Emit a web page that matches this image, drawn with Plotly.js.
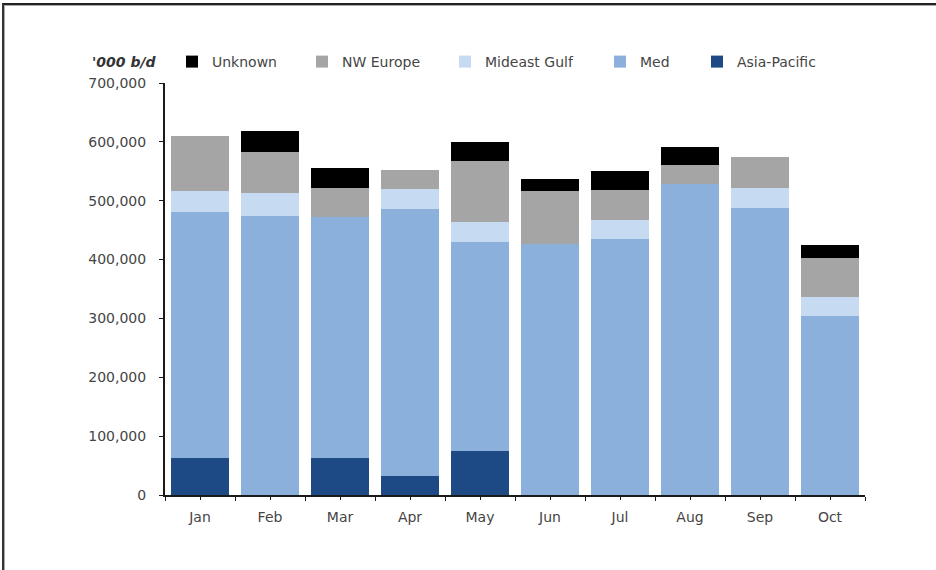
<!DOCTYPE html>
<html>
<head>
<meta charset="utf-8">
<script src="https://cdn.plot.ly/plotly-3.0.1.min.js"></script>
<style>
  html, body { margin: 0; padding: 0; background: #fff; }
  #wrap { position: relative; width: 936px; height: 570px; overflow: hidden; }
  #chart { position: absolute; left: 0; top: 0; width: 936px; height: 570px; }
  #frame { position: absolute; left: 2px; top: 3px; width: 960px; height: 600px;
           border-top: 2px solid #222; border-left: 2px solid #333;
           box-shadow: inset 1px 1px 0 #aaa; pointer-events: none; }
</style>
</head>
<body>
<div id="wrap">
  <div id="chart"></div>
  <div id="frame"></div>
</div>
<script>
const months = ["Jan", "Feb", "Mar", "Apr", "May", "Jun", "Jul", "Aug", "Sep", "Oct"];
const asiaPacific = [63000, 0, 63000, 32000, 75000, 0, 0, 0, 0, 0];
const med         = [418000, 474000, 409000, 454000, 355000, 426000, 435000, 528000, 488000, 304000];
const mideastGulf = [35000, 39000, 0, 34000, 34000, 0, 32000, 0, 34000, 32000];
const nwEurope    = [94000, 70000, 49000, 32000, 104000, 90000, 51000, 32000, 52000, 66000];
const unknown     = [0, 36000, 34000, 0, 32000, 21000, 32000, 32000, 0, 22000];
const yTicks = [0, 100000, 200000, 300000, 400000, 500000, 600000, 700000];
const unitLabel = "'000 b/d";

const FONT = "DejaVu Sans";
const TXT = "#454545";

function bar(name, y, color, legendId) {
  return {
    type: "bar", name: name, x: months, y: y,
    marker: { color: color, line: { width: 0 } },
    legend: legendId, hoverinfo: "x+y+name"
  };
}

const data = [
  bar("Asia-Pacific", asiaPacific, "#1d4a84", "legend5"),
  bar("Med", med, "#8cb0dc", "legend4"),
  bar("Mideast Gulf", mideastGulf, "#c6daf1", "legend3"),
  bar("NW Europe", nwEurope, "#a5a5a5", "legend2"),
  bar("Unknown", unknown, "#000000", "legend"),
  { type: "scatter", x: [], y: [], xaxis: "x2", yaxis: "y", showlegend: false, hoverinfo: "skip" }
];

// legend text start positions in pixels
const legendTextX = [212, 342, 485, 640, 737];
function leg(i) {
  return {
    xref: "container", yref: "container",
    x: (legendTextX[i] - 40) / 936, xanchor: "left",
    y: 1 - 62 / 570, yanchor: "middle",
    orientation: "h", bgcolor: "rgba(0,0,0,0)", borderwidth: 0,
    font: { family: FONT, size: 14, color: TXT }
  };
}

const layout = {
  width: 936, height: 570,
  margin: { l: 165, r: 71, t: 83, b: 75, pad: 0 },
  paper_bgcolor: "#ffffff", plot_bgcolor: "#ffffff",
  barmode: "stack", bargap: 0.17,
  font: { family: FONT, size: 14, color: TXT },
  showlegend: true,
  legend: leg(0), legend2: leg(1), legend3: leg(2), legend4: leg(3), legend5: leg(4),
  xaxis: {
    type: "category", categoryarray: months, categoryorder: "array",
    range: [-0.5, 9.5],
    showline: true, linecolor: "#1a1a1a", linewidth: 2,
    ticks: "outside", tickson: "boundaries", ticklen: 4, tickcolor: "#1a1a1a", tickwidth: 1,
    showgrid: false, zeroline: false,
    tickfont: { family: FONT, size: 14, color: TXT },
    ticklabelstandoff: 8
  },
  xaxis2: {
    overlaying: "x", anchor: "y", type: "linear", range: [-0.5, 9.5],
    tickmode: "array", tickvals: months.map((m, i) => i),
    ticks: "outside", ticklen: 4, tickcolor: "#1a1a1a", tickwidth: 1,
    showticklabels: false, showline: false, showgrid: false, zeroline: false,
    side: "bottom", fixedrange: true
  },
  yaxis: {
    range: [0, 700000], tickmode: "array", tickvals: yTicks, tickformat: ",d",
    showline: true, linecolor: "#1a1a1a", linewidth: 2,
    ticks: "outside", ticklen: 4, tickcolor: "#1a1a1a", tickwidth: 1,
    showgrid: false, zeroline: false,
    tickfont: { family: FONT, size: 14, color: TXT },
    ticklabelstandoff: 10
  },
  annotations: [{
    text: unitLabel, showarrow: false,
    xref: "paper", yref: "paper",
    x: (90 - 165) / 700, xanchor: "left",
    y: (495 - 62) / 412, yanchor: "middle",
    font: { family: FONT, size: 14, color: "#333333", weight: "bold", style: "italic" }
  }]
};

Plotly.newPlot("chart", data, layout, { displayModeBar: false });
</script>
</body>
</html>
